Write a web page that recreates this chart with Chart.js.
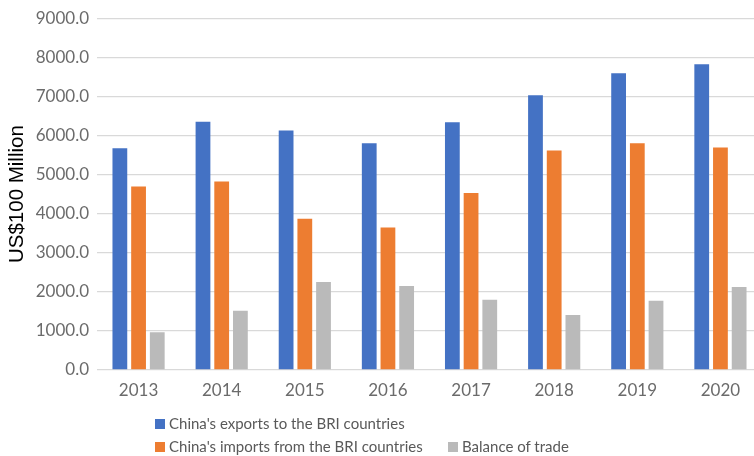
<!DOCTYPE html>
<html>
<head>
<meta charset="utf-8">
<script src="https://cdn.jsdelivr.net/npm/chart.js@4/dist/chart.umd.min.js"></script>
<style>
  html, body { margin: 0; padding: 0; background: #fff; overflow: hidden; }
  #wrap { position: relative; width: 754px; height: 456px; overflow: hidden; }
  canvas { position: absolute; left: 0; top: 0; }
  .legend-item { position: absolute; font-family: Lato, sans-serif; font-size: 15px; color: #595959; white-space: nowrap; line-height: 20px; }
  .legend-item span.box { display: inline-block; width: 10px; height: 10px; margin-right: 4px; vertical-align: 0px; }
</style>
</head>
<body>
<div id="wrap">
  <canvas id="chart" width="762" height="456"></canvas>
  <div id="legend"></div>
</div>
<script>
const years = ['2013', '2014', '2015', '2016', '2017', '2018', '2019', '2020'];
const exportsBRI = [5676, 6350, 6128, 5804, 6341, 7031, 7594, 7824];
const importsBRI = [4696, 4824, 3869, 3648, 4526, 5617, 5804, 5693];
const balanceTrade = [963, 1517, 2250, 2148, 1798, 1406, 1773, 2122];
const seriesNames = ["China's exports to the BRI countries", "China's imports from the BRI countries", 'Balance of trade'];
const seriesColors = ['#4472C4', '#ED7D31', '#BABABA'];
const yTicks = [0, 1000, 2000, 3000, 4000, 5000, 6000, 7000, 8000, 9000];

const tickFont = { family: 'Lato, sans-serif', size: 17 };

function makeDataset(i, values) {
  return {
    label: seriesNames[i],
    data: values,
    backgroundColor: seriesColors[i],
    borderWidth: 0,
    categoryPercentage: 0.675,
    barPercentage: 0.79
  };
}

const chart = new Chart(document.getElementById('chart'), {
  type: 'bar',
  data: {
    labels: years,
    datasets: [
      makeDataset(0, exportsBRI),
      makeDataset(1, importsBRI),
      makeDataset(2, balanceTrade)
    ]
  },
  options: {
    responsive: false,
    animation: false,
    layout: { padding: { top: 18, bottom: 56, right: 0, left: 0 } },
    plugins: {
      legend: { display: false },
      tooltip: { enabled: false }
    },
    scales: {
      x: {
        grid: { display: false },
        border: { display: false },
        ticks: { color: '#6b6b6b', font: tickFont, padding: 2 },
        afterFit(scale) { scale.height = 30; }
      },
      y: {
        min: 0,
        max: 9000,
        afterBuildTicks(scale) { scale.ticks = yTicks.map(v => ({ value: v })); },
        ticks: {
          color: '#6b6b6b',
          font: tickFont,
          padding: 8,
          callback: v => v.toFixed(1)
        },
        grid: { color: '#D9D9D9', lineWidth: 1.3, drawTicks: false },
        border: { display: false },
        title: {
          display: true,
          text: 'US$100 Million',
          color: '#000',
          font: { family: '"Liberation Sans", Arial, sans-serif', size: 20.5 },
          padding: { top: 5, bottom: 0 }
        },
        afterFit(scale) { scale.width = 97; }
      }
    }
  }
});

// legend laid out like the original: two rows, left aligned
const legendPos = [
  { x: 155, y: 413 },
  { x: 155, y: 436 },
  { x: 448, y: 436 }
];
const legendEl = document.getElementById('legend');
seriesNames.forEach((name, i) => {
  const d = document.createElement('div');
  d.className = 'legend-item';
  d.style.left = legendPos[i].x + 'px';
  d.style.top = legendPos[i].y + 'px';
  const box = document.createElement('span');
  box.className = 'box';
  box.style.background = seriesColors[i];
  d.appendChild(box);
  d.appendChild(document.createTextNode(name));
  legendEl.appendChild(d);
});
</script>
</body>
</html>
